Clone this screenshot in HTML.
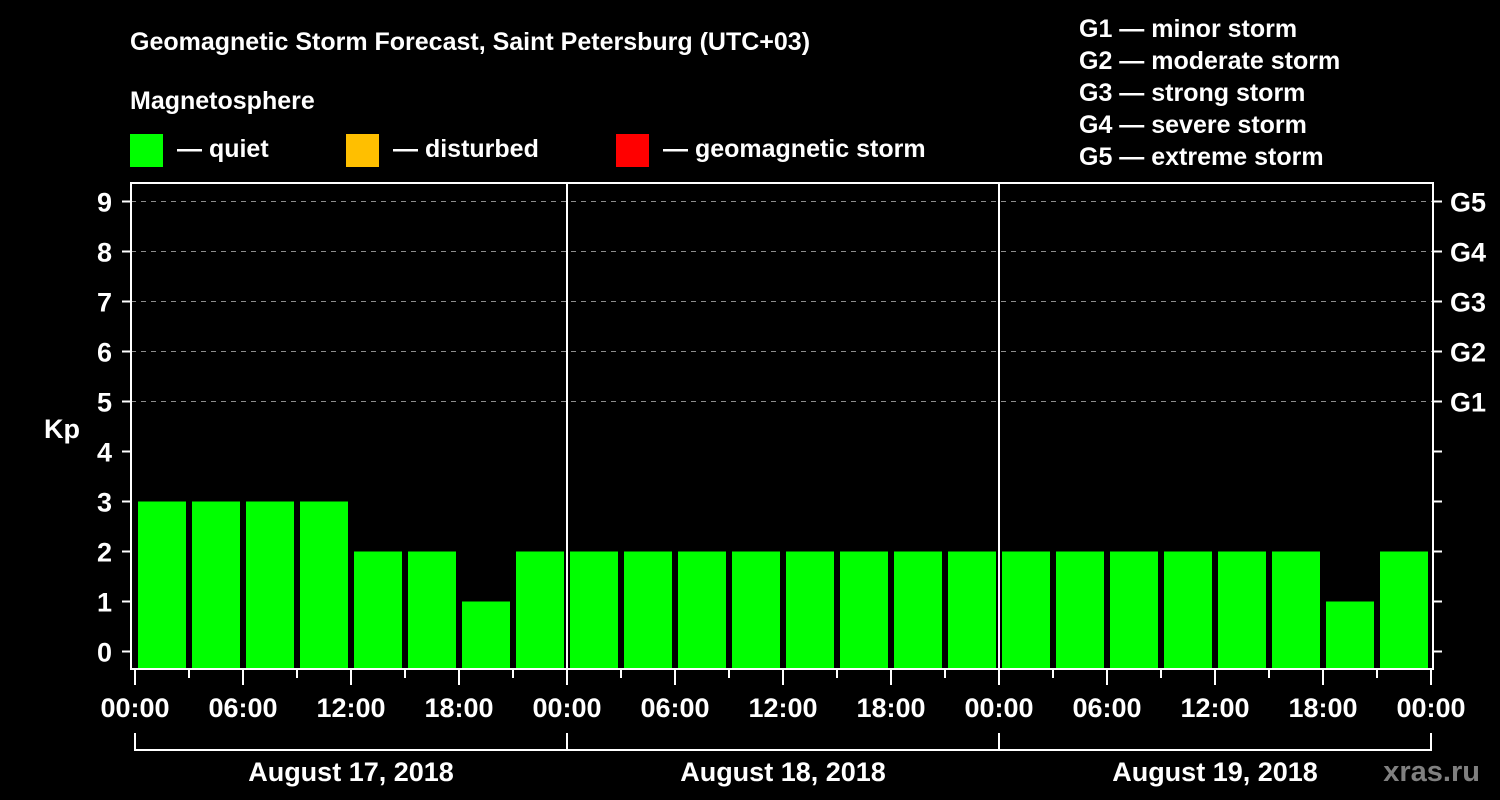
<!DOCTYPE html>
<html><head><meta charset="utf-8"><style>
html,body{margin:0;padding:0;background:#000;}
svg{display:block;font-family:"Liberation Sans",Arial,sans-serif;font-weight:bold;}
</style></head><body>
<svg id="chart" width="1500" height="800" viewBox="0 0 1500 800">
<rect x="0" y="0" width="1500" height="800" fill="#000"/>
<text x="130" y="50" fill="#fff" font-size="25">Geomagnetic Storm Forecast, Saint Petersburg (UTC+03)</text>
<text x="130" y="109" fill="#fff" font-size="25">Magnetosphere</text>
<g><rect x="130" y="134" width="33" height="33" fill="#00ff00"/><text x="177" y="157" fill="#fff" font-size="25">— quiet</text></g>
<g><rect x="346" y="134" width="33" height="33" fill="#ffbf00"/><text x="393" y="157" fill="#fff" font-size="25">— disturbed</text></g>
<g><rect x="616" y="134" width="33" height="33" fill="#ff0000"/><text x="663" y="157" fill="#fff" font-size="25">— geomagnetic storm</text></g>
<g fill="#fff" font-size="25">
<text x="1079" y="37">G1 — minor storm</text>
<text x="1079" y="69">G2 — moderate storm</text>
<text x="1079" y="101">G3 — strong storm</text>
<text x="1079" y="133">G4 — severe storm</text>
<text x="1079" y="165">G5 — extreme storm</text>
</g>
<text x="62" y="438" fill="#fff" font-size="27" text-anchor="middle">Kp</text>
<g id="grid"></g><g id="bars"></g><g id="axes"></g>
<text x="1480" y="781" fill="#808080" font-size="29" text-anchor="end">xras.ru</text>
</svg>
<script>
const kpValues = [3,3,3,3,2,2,1,2, 2,2,2,2,2,2,2,2, 2,2,2,2,2,2,1,2];
const dayLabels = ["August 17, 2018","August 18, 2018","August 19, 2018"];
const hourLabels = ["00:00","06:00","12:00","18:00"];
const yTicks = [0,1,2,3,4,5,6,7,8,9];
const gLabels = [[5,"G1"],[6,"G2"],[7,"G3"],[8,"G4"],[9,"G5"]];
const NS="http://www.w3.org/2000/svg";
const x0=135, dayW=432, slot=54, frameL=131, frameR=1433, frameT=183, frameB=669;
const yS=k=>651.5-50*k;
const xS=i=>x0+i*slot;
function mk(tag,attrs,parent){const e=document.createElementNS(NS,tag);for(const k in attrs)e.setAttribute(k,attrs[k]);parent.appendChild(e);return e;}
const grid=document.getElementById('grid'),bars=document.getElementById('bars'),axes=document.getElementById('axes');
gLabels.forEach(([k])=>{const l=mk('line',{x1:frameL,x2:frameR,y1:yS(k),y2:yS(k),stroke:'#8c8c8c','stroke-width':1,'stroke-dasharray':'5,5'},grid);

});
kpValues.forEach((v,i)=>{const c=v>=5?'#ff0000':(v>=4?'#ffbf00':'#00ff00');
const r=mk('rect',{x:xS(i)+3,y:yS(v),width:48,height:frameB-yS(v),fill:c},bars);

});
const fr=mk('rect',{x:frameL,y:frameT,width:frameR-frameL,height:frameB-frameT,fill:'none',stroke:'#fff','stroke-width':2},axes);


for(let d=1;d<3;d++){const l=mk('line',{x1:x0+d*dayW,x2:x0+d*dayW,y1:frameT,y2:frameB,stroke:'#fff','stroke-width':2},axes);

}
yTicks.forEach(k=>{mk('line',{x1:122,x2:frameL,y1:yS(k),y2:yS(k),stroke:'#fff','stroke-width':2},axes);
mk('line',{x1:frameR,x2:1442,y1:yS(k),y2:yS(k),stroke:'#fff','stroke-width':2},axes);
const t=mk('text',{x:112,y:yS(k)+10,fill:'#fff','font-size':27,'text-anchor':'end'},axes);t.textContent=k;

});
gLabels.forEach(([k,s])=>{const t=mk('text',{x:1450,y:yS(k)+10,fill:'#fff','font-size':27},axes);t.textContent=s;

});
for(let i=0;i<=24;i++){const x=xS(i);const major=i%2===0;
mk('line',{x1:x,x2:x,y1:frameB,y2:major?685:678,stroke:'#fff','stroke-width':2},axes);
if(major){const lbl=i===24?hourLabels[0]:hourLabels[(i/2)%4];
const t=mk('text',{x:x,y:717,fill:'#fff','font-size':27,'text-anchor':'middle'},axes);t.textContent=lbl;

}}
mk('path',{d:`M${x0} 733 V750 H${x0+3*dayW} V733`,fill:'none',stroke:'#fff','stroke-width':2},axes);
for(let d=1;d<3;d++)mk('line',{x1:x0+d*dayW,x2:x0+d*dayW,y1:733,y2:750,stroke:'#fff','stroke-width':2},axes);
dayLabels.forEach((s,d)=>{const t=mk('text',{x:x0+d*dayW+dayW/2,y:781,fill:'#fff','font-size':27,'text-anchor':'middle'},axes);t.textContent=s;

});
</script>
</body></html>
